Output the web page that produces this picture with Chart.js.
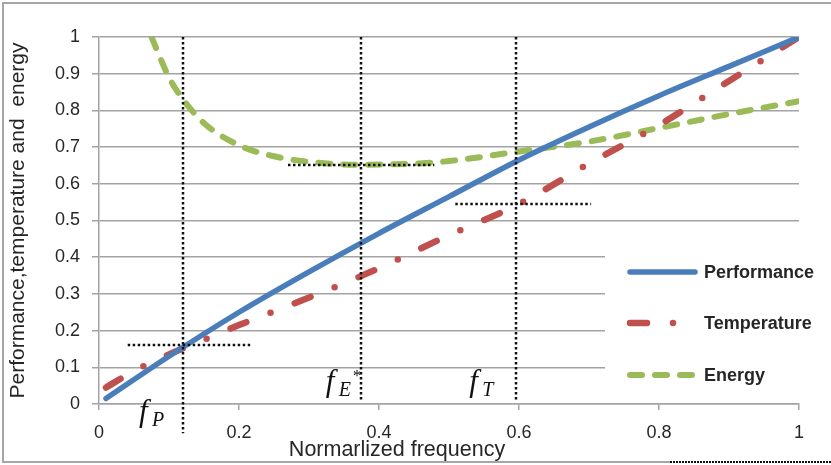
<!DOCTYPE html>
<html>
<head>
<meta charset="utf-8">
<script src="https://cdn.jsdelivr.net/npm/chart.js@4"></script>
<style>
  html, body { margin: 0; padding: 0; background: #fff; }
</style>
</head>
<body>
<canvas id="freqChart" width="831" height="465"></canvas>
<script>
// normalized frequency vs. normalized performance / temperature / energy
const perfFreq = [0.01, 0.1, 0.2, 0.3, 0.4, 0.5, 0.6, 0.7, 0.8, 0.9, 1.0];
const performance = [0.015, 0.13, 0.25, 0.36, 0.465, 0.565, 0.665, 0.755, 0.84, 0.92, 1.0];

const tempFreq = [0.01, 0.05, 0.1, 0.15, 0.2, 0.3, 0.4, 0.5, 0.6, 0.7, 0.8, 0.9, 1.0];
const temperature = [0.045, 0.09, 0.135, 0.175, 0.215, 0.29, 0.37, 0.46, 0.545, 0.655, 0.76, 0.88, 1.0];

const energyFreq = [0.075, 0.1, 0.12, 0.15, 0.2, 0.25, 0.3, 0.37, 0.45, 0.5, 0.6, 0.7, 0.8, 0.9, 1.0];
const energy = [1.0, 0.89, 0.83, 0.765, 0.705, 0.675, 0.66, 0.652, 0.655, 0.662, 0.688, 0.715, 0.752, 0.79, 0.825];

const seriesNames = ['Performance', 'Temperature', 'Energy'];

// marker frequencies (f_P, f_E*, f_T) and where their dotted lines stop
const markerFreq = [0.12, 0.374, 0.596];
const markerLow = [-0.08, 0.01, 0.01];
// horizontal dotted guides
const guideY = [0.16, 0.65, 0.545];
const guideFrom = [0.041, 0.27, 0.509];
const guideTo = [0.219, 0.479, 0.703];

const toPoints = (xs, ys) => xs.map((x, i) => ({ x: x, y: ys[i] }));

const FONT = '"Liberation Sans", Arial, sans-serif';
const GRID = '#a3a3a3';
const TEXT = '#262626';

function dotted(ctx, x0, y0, x1, y1) {
    ctx.beginPath();
    ctx.moveTo(x0, y0);
    ctx.lineTo(x1, y1);
    ctx.stroke();
}

const overlay = {
    id: 'overlay',
    beforeDatasetsDraw(chart) {
        // legend sits on a white box over the grid
        const ctx = chart.ctx;
        ctx.save();
        ctx.fillStyle = '#fff';
        ctx.fillRect(605, 238, 226, 158);
        ctx.restore();
    },
    afterDatasetsDraw(chart) {
        const ctx = chart.ctx;
        const xs = chart.scales.x, ys = chart.scales.y;
        ctx.save();
        ctx.strokeStyle = '#111';
        ctx.lineWidth = 2.5;
        ctx.setLineDash([2.5, 2.5]);
        markerFreq.forEach((f, i) => {
            const px = Math.round(xs.getPixelForValue(f));
            dotted(ctx, px, ys.getPixelForValue(1), px, ys.getPixelForValue(markerLow[i]));
        });
        guideY.forEach((v, i) => {
            const py = Math.round(ys.getPixelForValue(v));
            dotted(ctx, xs.getPixelForValue(guideFrom[i]), py, xs.getPixelForValue(guideTo[i]), py);
        });
        ctx.restore();

        // f labels
        ctx.save();
        ctx.fillStyle = '#111';
        ctx.textBaseline = 'alphabetic';
        const labels = [
            { x: xs.getPixelForValue(markerFreq[0]) - 44, y: 421, sub: 'P', star: false },
            { x: xs.getPixelForValue(markerFreq[1]) - 35, y: 391, sub: 'E', star: true },
            { x: xs.getPixelForValue(markerFreq[2]) - 47, y: 391, sub: 'T', star: false }
        ];
        labels.forEach(l => {
            ctx.font = 'italic 31px "Liberation Serif", serif';
            ctx.fillText('f', l.x, l.y);
            ctx.font = 'italic 20px "Liberation Serif", serif';
            ctx.fillText(l.sub, l.x + 13, l.y + 5);
            if (l.star) {
                ctx.font = '17px "Liberation Serif", serif';
                ctx.fillText('*', l.x + 27, l.y - 10);
            }
        });
        ctx.restore();
    },
    afterDraw(chart) {
        const ctx = chart.ctx;
        const area = chart.chartArea;
        ctx.save();

        // legend
        const sets = chart.data.datasets;
        const rowY = [272, 323, 375];
        sets.forEach((ds, i) => {
            ctx.strokeStyle = ds.borderColor;
            ctx.lineWidth = ds.borderWidth;
            ctx.lineCap = 'round';
            ctx.setLineDash(ds.borderDash || []);
            dotted(ctx, 630, rowY[i], 695, rowY[i]);
            ctx.setLineDash([]);
            ctx.fillStyle = TEXT;
            ctx.font = 'bold 18px ' + FONT;
            ctx.textBaseline = 'middle';
            ctx.textAlign = 'left';
            ctx.fillText(ds.label, 704, rowY[i] + 1);
        });

        // axis titles
        ctx.fillStyle = TEXT;
        ctx.font = '21.5px ' + FONT;
        ctx.textAlign = 'center';
        ctx.textBaseline = 'middle';
        ctx.fillText('Normarlized frequency', 397, 450);
        ctx.save();
        ctx.translate(18, (area.top + area.bottom) / 2);
        ctx.rotate(-Math.PI / 2);
        ctx.font = '21px ' + FONT;
        ctx.fillText('Performance,temperature and  energy', 0, 0);
        ctx.restore();

        // outer frame
        ctx.strokeStyle = '#a6a6a6';
        ctx.lineWidth = 2;
        ctx.lineCap = 'butt';
        ctx.beginPath();
        ctx.moveTo(3, 463);
        ctx.lineTo(3, 3);
        ctx.lineTo(831, 3);
        ctx.moveTo(3, 462);
        ctx.lineTo(670, 462);
        ctx.stroke();
        ctx.strokeStyle = '#111';
        ctx.setLineDash([2, 1]);
        dotted(ctx, 670, 462, 831, 462);
        ctx.restore();
    }
};

const ctx = document.getElementById('freqChart').getContext('2d');
const freqChart = new Chart(ctx, {
    type: 'line',
    data: {
        datasets: [{
            label: seriesNames[0],
            data: toPoints(perfFreq, performance),
            borderColor: '#4a7ebb',
            borderWidth: 5.5,
            borderCapStyle: 'round',
            cubicInterpolationMode: 'monotone',
            pointRadius: 0,
            fill: false
        }, {
            label: seriesNames[1],
            data: toPoints(tempFreq, temperature),
            borderColor: '#c0504d',
            borderWidth: 6.5,
            borderCapStyle: 'round',
            borderDash: [17, 26, 0, 26],
            cubicInterpolationMode: 'monotone',
            pointRadius: 0,
            fill: false
        }, {
            label: seriesNames[2],
            data: toPoints(energyFreq, energy),
            borderColor: '#9bbb59',
            borderWidth: 6,
            borderCapStyle: 'round',
            borderDash: [12, 13],
            cubicInterpolationMode: 'monotone',
            pointRadius: 0,
            fill: false
        }]
    },
    options: {
        responsive: false,
        animation: false,
        layout: { padding: { top: 37, right: 32, left: 0, bottom: 0 } },
        plugins: {
            legend: { display: false },
            tooltip: { enabled: false }
        },
        scales: {
            x: {
                type: 'linear',
                min: 0,
                max: 1,
                afterFit: s => { s.height = 61; },
                ticks: {
                    stepSize: 0.2,
                    color: TEXT,
                    font: { family: FONT, size: 18 },
                    padding: 12,
                    maxRotation: 0,
                    callback: v => String(+v.toFixed(1))
                },
                grid: { drawOnChartArea: false, color: GRID, lineWidth: 1.5, tickLength: 6 },
                border: { display: true, color: GRID, width: 1.5 }
            },
            y: {
                min: 0,
                max: 1,
                afterFit: s => { s.width = 99; },
                ticks: {
                    stepSize: 0.1,
                    color: TEXT,
                    font: { family: FONT, size: 18 },
                    padding: 12,
                    callback: v => String(+v.toFixed(1))
                },
                grid: { color: GRID, lineWidth: 1.5, tickLength: 7 },
                border: { display: true, color: GRID, width: 1.5 }
            }
        }
    },
    plugins: [overlay]
});
</script>
</body>
</html>
